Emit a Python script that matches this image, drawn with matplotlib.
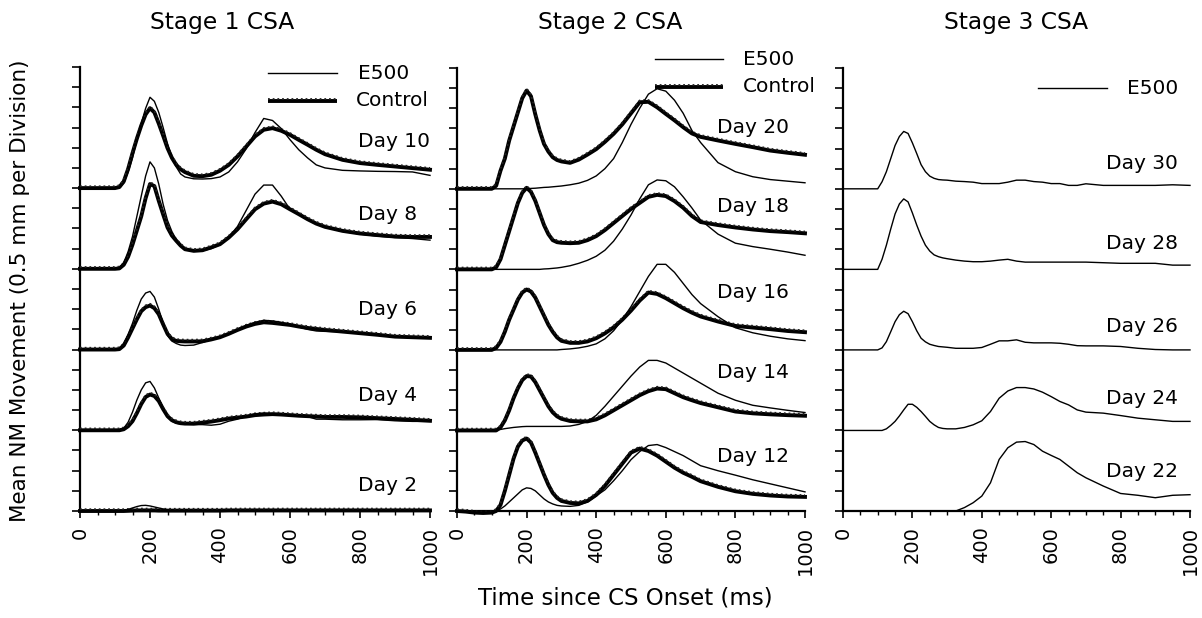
import numpy as np
import matplotlib
matplotlib.use("Agg")
import matplotlib.pyplot as plt
from matplotlib.transforms import offset_copy

# time since CS onset (ms), finer around the early peak
t = [0, 25, 50, 75, 100,
     112.5, 125, 137.5, 150, 162.5, 175, 187.5, 200, 212.5, 225, 237.5,
     250, 262.5, 275, 287.5, 300,
     325, 350, 375, 400, 425, 450, 475, 500, 525, 550, 575, 600, 625, 650,
     675, 700, 750, 800, 850, 900, 950, 1000]

# Stage 1 CSA (divisions above each day's baseline)
ctrl_d10 = [0, 0, 0, 0, 0, 0.05, 0.33, 0.95, 1.73, 2.45, 3.1, 3.65, 3.96, 3.75, 3.2, 2.6,
            1.98, 1.5, 1.15, 0.93, 0.79, 0.61, 0.59, 0.66, 0.86, 1.15, 1.57, 2.06, 2.56,
            2.89, 2.97, 2.84, 2.64, 2.39, 2.15, 1.9, 1.68, 1.4, 1.24, 1.15, 1.07, 0.99, 0.91]
e500_d10 = [0, 0, 0, 0, 0, 0.03, 0.25, 0.8, 1.5, 2.4, 3.2, 3.95, 4.5, 4.3, 3.75, 3.0,
            2.2, 1.55, 1.05, 0.7, 0.55, 0.46, 0.45, 0.47, 0.55, 0.8, 1.3, 1.95, 2.75,
            3.45, 3.35, 2.95, 2.4, 1.9, 1.5, 1.15, 1.0, 0.88, 0.85, 0.83, 0.82, 0.8, 0.63]
ctrl_d8 = [0, 0, 0, 0, 0, 0.02, 0.2, 0.6, 1.2, 1.9, 2.6, 3.5, 4.2, 4.1, 3.37, 2.7,
           2.05, 1.65, 1.39, 1.15, 0.97, 0.89, 0.92, 1.06, 1.22, 1.55, 1.96, 2.46, 2.95,
           3.23, 3.33, 3.2, 2.95, 2.71, 2.46, 2.24, 2.08, 1.88, 1.75, 1.67, 1.6, 1.58, 1.58]
e500_d8 = [0, 0, 0, 0, 0, 0.05, 0.3, 0.85, 1.6, 2.6, 3.6, 4.6, 5.3, 5.0, 4.2, 3.2,
           2.4, 1.85, 1.45, 1.15, 0.95, 0.9, 0.9, 1.0, 1.2, 1.55, 2.1, 2.9, 3.7,
           4.15, 4.15, 3.6, 2.95, 2.7, 2.45, 2.23, 2.06, 1.86, 1.72, 1.62, 1.55, 1.5, 1.42]
ctrl_d6 = [0, 0, 0, 0, 0, 0.02, 0.2, 0.6, 1.05, 1.5, 1.9, 2.1, 2.18, 2.05, 1.75, 1.25,
           0.78, 0.52, 0.43, 0.41, 0.4, 0.4, 0.41, 0.5, 0.61, 0.78, 0.97, 1.14, 1.27,
           1.35, 1.32, 1.27, 1.22, 1.14, 1.07, 1.02, 0.97, 0.89, 0.81, 0.73, 0.64, 0.61, 0.58]
e500_d6 = [0, 0, 0, 0, 0, 0.05, 0.3, 0.75, 1.3, 1.95, 2.5, 2.8, 2.88, 2.6, 2.0, 1.3,
           0.7, 0.42, 0.3, 0.22, 0.2, 0.22, 0.35, 0.5, 0.62, 0.8, 1.0, 1.2, 1.35,
           1.45, 1.42, 1.35, 1.25, 1.12, 1.0, 0.92, 0.9, 0.88, 0.82, 0.75, 0.63, 0.6, 0.57]
ctrl_d4 = [0, 0, 0, 0, 0, 0, 0.05, 0.2, 0.45, 0.85, 1.3, 1.65, 1.77, 1.7, 1.45, 1.05,
           0.7, 0.5, 0.4, 0.35, 0.33, 0.33, 0.38, 0.43, 0.5, 0.58, 0.63, 0.68, 0.75,
           0.78, 0.8, 0.78, 0.75, 0.72, 0.7, 0.68, 0.66, 0.66, 0.64, 0.6, 0.56, 0.52, 0.47]
e500_d4 = [0, 0, 0, 0, 0, 0.02, 0.1, 0.4, 0.9, 1.5, 2.0, 2.35, 2.42, 2.1, 1.6, 1.1,
           0.65, 0.45, 0.35, 0.31, 0.3, 0.28, 0.28, 0.25, 0.3, 0.45, 0.55, 0.7, 0.82,
           0.85, 0.82, 0.78, 0.75, 0.7, 0.68, 0.55, 0.55, 0.52, 0.52, 0.53, 0.47, 0.44, 0.44]
ctrl_d2 = [0, 0, 0, 0, 0, 0, 0, 0.01, 0.02, 0.03, 0.03, 0.03, 0.03, 0.03, 0.02, 0.02,
           0.02, 0.02, 0.02, 0.02, 0.02, 0.02, 0.02, 0.02, 0.02, 0.03, 0.03, 0.03, 0.03,
           0.03, 0.03, 0.03, 0.03, 0.03, 0.03, 0.03, 0.03, 0.03, 0.03, 0.03, 0.03, 0.03, 0.03]
e500_d2 = [0, 0, 0, 0, 0, 0, 0.02, 0.08, 0.15, 0.22, 0.27, 0.28, 0.25, 0.2, 0.15, 0.1,
           0.05, 0.03, 0.02, 0.02, 0.02, 0.02, 0.02, 0.02, 0.02, 0.02, 0.02, 0.02, 0.02,
           0.02, 0.02, 0.02, 0.02, 0.02, 0.02, 0.02, 0.02, 0.02, 0.02, 0.02, 0.02, 0.02, 0.02]

# Stage 2 CSA
ctrl_d20 = [0, 0, 0, 0, 0, 0.15, 0.9, 1.5, 2.4, 3.1, 3.8, 4.5, 4.88, 4.6, 3.7, 2.9,
            2.23, 1.85, 1.57, 1.43, 1.36, 1.29, 1.45, 1.7, 1.97, 2.33, 2.73, 3.2, 3.75,
            4.3, 4.32, 4.05, 3.72, 3.4, 3.06, 2.75, 2.58, 2.4, 2.23, 2.07, 1.9, 1.79, 1.69]
e500_d20 = [0, 0, 0, 0, 0, 0, 0, 0, 0, 0, 0, 0, 0, 0.02, 0.03, 0.05,
            0.07, 0.08, 0.1, 0.12, 0.14, 0.2, 0.28, 0.42, 0.64, 1.0, 1.5, 2.3, 3.2,
            4.0, 4.7, 4.97, 4.85, 4.4, 3.75, 2.9, 2.3, 1.3, 0.85, 0.6, 0.46, 0.38, 0.3]
ctrl_d18 = [0, 0, 0, 0, 0, 0.1, 0.5, 1.2, 1.9, 2.6, 3.3, 3.8, 4.05, 3.85, 3.4, 2.8,
            2.2, 1.75, 1.45, 1.35, 1.32, 1.3, 1.32, 1.45, 1.65, 1.95, 2.3, 2.65, 3.0,
            3.3, 3.6, 3.7, 3.64, 3.39, 3.06, 2.65, 2.35, 2.2, 2.08, 1.98, 1.9, 1.85, 1.79]
e500_d18 = [0, 0, 0, 0, 0, 0, 0, 0, 0, 0, 0, 0, 0, 0, 0, 0,
            0.02, 0.03, 0.05, 0.07, 0.1, 0.18, 0.3, 0.45, 0.65, 0.95, 1.4, 2.0, 2.7,
            3.5, 4.2, 4.44, 4.4, 4.1, 3.6, 3.05, 2.45, 1.75, 1.3, 1.13, 1.0, 0.86, 0.7]
ctrl_d16 = [0, 0, 0, 0, 0, 0.1, 0.4, 0.9, 1.5, 2.0, 2.5, 2.85, 3.0, 2.9, 2.6, 2.15,
            1.7, 1.25, 0.9, 0.62, 0.45, 0.35, 0.35, 0.42, 0.58, 0.82, 1.12, 1.5, 1.95,
            2.45, 2.85, 2.78, 2.57, 2.32, 2.07, 1.85, 1.66, 1.41, 1.19, 1.11, 1.03, 0.94, 0.88]
e500_d16 = [0, 0, 0, 0, 0, 0, 0, 0, 0, 0, 0, 0, 0, 0, 0, 0,
            0, 0, 0, 0, 0.02, 0.05, 0.1, 0.18, 0.3, 0.55, 0.95, 1.5, 2.15,
            2.9, 3.65, 4.25, 4.25, 3.85, 3.3, 2.75, 2.3, 1.65, 1.1, 0.85, 0.68, 0.55, 0.46]
ctrl_d14 = [0, 0, 0, 0, 0, 0, 0.15, 0.5, 1.0, 1.6, 2.1, 2.5, 2.7, 2.68, 2.4, 2.0,
            1.6, 1.2, 0.9, 0.7, 0.58, 0.47, 0.45, 0.45, 0.55, 0.75, 1.0, 1.25, 1.5,
            1.75, 1.95, 2.08, 2.05, 1.85, 1.65, 1.5, 1.36, 1.15, 0.94, 0.85, 0.8, 0.76, 0.73]
e500_d14 = [0, 0, 0, 0, 0, 0.02, 0.05, 0.09, 0.12, 0.15, 0.17, 0.19, 0.2, 0.2, 0.2, 0.2,
            0.2, 0.2, 0.2, 0.2, 0.2, 0.22, 0.3, 0.45, 0.75, 1.2, 1.7, 2.2, 2.7,
            3.15, 3.48, 3.48, 3.35, 3.1, 2.85, 2.6, 2.35, 1.85, 1.5, 1.25, 1.12, 1.0, 0.89]
ctrl_d12 = [0, -0.03, -0.08, -0.1, -0.08, 0, 0.3, 1.0, 1.8, 2.6, 3.2, 3.5, 3.6, 3.4, 2.9, 2.35,
            1.8, 1.3, 0.9, 0.65, 0.5, 0.4, 0.38, 0.5, 0.8, 1.25, 1.8, 2.35, 2.9,
            3.1, 2.98, 2.75, 2.45, 2.15, 1.9, 1.7, 1.48, 1.2, 0.98, 0.85, 0.77, 0.72, 0.7]
e500_d12 = [0, 0, 0, 0, 0, 0, 0.1, 0.25, 0.45, 0.65, 0.85, 1.05, 1.15, 1.12, 1.0, 0.8,
            0.6, 0.45, 0.35, 0.28, 0.25, 0.23, 0.28, 0.45, 0.75, 1.05, 1.5, 2.0, 2.55,
            2.95, 3.25, 3.3, 3.15, 2.95, 2.75, 2.5, 2.25, 2.0, 1.78, 1.55, 1.35, 1.15, 0.95]

# Stage 3 CSA (E500 only)
e500_d30 = [0, 0, 0, 0, 0, 0.35, 0.85, 1.5, 2.15, 2.6, 2.85, 2.75, 2.28, 1.75, 1.2, 0.85,
            0.63, 0.52, 0.46, 0.44, 0.43, 0.38, 0.36, 0.33, 0.26, 0.26, 0.26, 0.33, 0.43,
            0.43, 0.36, 0.33, 0.26, 0.26, 0.17, 0.17, 0.25, 0.17, 0.17, 0.17, 0.17, 0.2, 0.17]
e500_d28 = [0, 0, 0, 0, 0, 0.5, 1.2, 2.0, 2.75, 3.25, 3.5, 3.35, 2.8, 2.2, 1.65, 1.2,
            0.91, 0.72, 0.63, 0.57, 0.53, 0.46, 0.41, 0.38, 0.38, 0.41, 0.46, 0.5, 0.41,
            0.36, 0.36, 0.36, 0.36, 0.36, 0.36, 0.36, 0.36, 0.33, 0.3, 0.3, 0.3, 0.21, 0.21]
e500_d26 = [0, 0, 0, 0, 0, 0.1, 0.41, 0.9, 1.4, 1.75, 1.92, 1.8, 1.4, 0.95, 0.58, 0.4,
            0.28, 0.22, 0.17, 0.15, 0.13, 0.08, 0.08, 0.08, 0.12, 0.28, 0.45, 0.45, 0.5,
            0.38, 0.35, 0.35, 0.35, 0.33, 0.28, 0.21, 0.2, 0.2, 0.17, 0.08, 0.02, 0, 0]
e500_d24 = [0, 0, 0, 0, 0, 0, 0.08, 0.25, 0.45, 0.72, 1.02, 1.3, 1.3, 1.15, 0.94, 0.7,
            0.45, 0.28, 0.15, 0.1, 0.08, 0.08, 0.15, 0.28, 0.48, 0.94, 1.6, 1.96, 2.13,
            2.13, 2.06, 1.9, 1.68, 1.44, 1.27, 1.02, 0.91, 0.86, 0.74, 0.61, 0.53, 0.45, 0.45]
e500_d22 = [0, 0, 0, 0, 0, 0, 0, 0, 0, 0, 0, 0, 0, 0, 0, 0,
            0, 0, 0, 0, 0, 0, 0.17, 0.41, 0.74, 1.4, 2.56, 3.14, 3.42,
            3.45, 3.3, 2.97, 2.76, 2.56, 2.23, 1.9, 1.65, 1.24, 0.87, 0.78, 0.66, 0.78, 0.81]

stage1_days = ["Day 10", "Day 8", "Day 6", "Day 4", "Day 2"]
stage2_days = ["Day 20", "Day 18", "Day 16", "Day 14", "Day 12"]
stage3_days = ["Day 30", "Day 28", "Day 26", "Day 24", "Day 22"]
baselines = [16, 12, 8, 4, 0]

W, H = 1202, 618
fig = plt.figure(figsize=(W / 100, H / 100), dpi=100)
plt.rcParams['font.family'] = 'DejaVu Sans'


def px_axes(left, right, top, bottom):
    return fig.add_axes([left / W, 1 - bottom / H, (right - left) / W, (bottom - top) / H])


ax1 = px_axes(80, 430, 67, 511)
ax2 = px_axes(457, 805, 68, 511)
ax3 = px_axes(843, 1190, 68, 511)


def style_axes(ax):
    ax.set_xlim(0, 1000)
    ax.set_ylim(0, 22)
    for s in ['top', 'right']:
        ax.spines[s].set_visible(False)
    for s in ['left', 'bottom']:
        ax.spines[s].set_linewidth(1.6)
    ax.set_yticks(range(0, 23))
    ax.set_yticklabels([])
    ax.set_xticks([0, 200, 400, 600, 800, 1000])
    ax.set_xticks(np.arange(0, 1001, 50), minor=True)
    ax.set_xticklabels(['0', '200', '400', '600', '800', '1000'], rotation=90, fontsize=14)
    ax.tick_params(axis='y', direction='out', length=6, width=1.2)
    ax.tick_params(axis='x', which='major', direction='out', length=5, width=1.2, pad=6)
    ax.tick_params(axis='x', which='minor', direction='out', length=3, width=1.0)


def draw_ctrl(ax, y, base):
    yy = np.array(y) + base
    ax.plot(t, yy, color='black', lw=2.8, solid_joinstyle='round', clip_on=False, zorder=3)
    tr = offset_copy(ax.transData, fig=fig, x=0, y=1.3, units='points')
    ax.plot(t, yy, color='#222222', lw=1.3, ls=(0, (1, 1.6)), transform=tr, clip_on=False, zorder=3)


def draw_e500(ax, y, base):
    ax.plot(t, np.array(y) + base, color='black', lw=1.0, clip_on=False, zorder=4)


for ax in (ax1, ax2, ax3):
    style_axes(ax)

# stage 1
for c, e, b in zip([ctrl_d10, ctrl_d8, ctrl_d6, ctrl_d4, ctrl_d2],
                   [e500_d10, e500_d8, e500_d6, e500_d4, e500_d2], baselines):
    draw_ctrl(ax1, c, b)
    draw_e500(ax1, e, b)
# stage 2
for c, e, b in zip([ctrl_d20, ctrl_d18, ctrl_d16, ctrl_d14, ctrl_d12],
                   [e500_d20, e500_d18, e500_d16, e500_d14, e500_d12], baselines):
    draw_ctrl(ax2, c, b)
    draw_e500(ax2, e, b)
# stage 3
for e, b in zip([e500_d30, e500_d28, e500_d26, e500_d24, e500_d22], baselines):
    draw_e500(ax3, e, b)

# day labels
fs_day = 14.5
for lab, b, dy in zip(stage1_days, baselines, [2.3, 2.67, 1.96, 1.7, 1.24]):
    ax1.text(794, b + dy, lab, fontsize=fs_day, ha='left', va='center')
for lab, b, dy in zip(stage2_days, baselines, [3.04, 3.14, 2.86, 2.88, 2.7]):
    ax2.text(747, b + dy, lab, fontsize=fs_day, ha='left', va='center')
for lab, b, dy in zip(stage3_days, baselines, [1.27, 1.3, 1.14, 1.58, 1.95]):
    ax3.text(758, b + dy, lab, fontsize=fs_day, ha='left', va='center')


# legends drawn by hand
def legend_e500(ax, x0, x1, y, xt):
    ax.plot([x0, x1], [y, y], color='black', lw=1.0, clip_on=False)
    ax.text(xt, y, 'E500', fontsize=fs_day, ha='left', va='center')


def legend_ctrl(ax, x0, x1, y, xt):
    ax.plot([x0, x1], [y, y], color='black', lw=2.8, clip_on=False, solid_capstyle='butt')
    tr = offset_copy(ax.transData, fig=fig, x=0, y=1.3, units='points')
    ax.plot([x0, x1], [y, y], color='#222222', lw=1.3, ls=(0, (1, 1.6)), transform=tr, clip_on=False)
    ax.text(xt, y, 'Control', fontsize=fs_day, ha='left', va='center')


legend_e500(ax1, 537, 734, 21.69, 794)
legend_ctrl(ax1, 537, 734, 20.32, 789)
legend_e500(ax2, 569, 764, 22.44, 822)
legend_ctrl(ax2, 569, 764, 21.06, 822)
legend_e500(ax3, 562, 761, 21.0, 818)

# titles and axis labels
for txt, xc in zip(['Stage 1 CSA', 'Stage 2 CSA', 'Stage 3 CSA'], [222, 610, 1016]):
    fig.text(xc / W, 1 - 22 / H, txt, fontsize=16.8, ha='center', va='center')
fig.text(625 / W, 1 - 598 / H, 'Time since CS Onset (ms)', fontsize=16.5, ha='center', va='center')
fig.text(20 / W, 1 - 291 / H, 'Mean NM Movement (0.5 mm per Division)', fontsize=15.5,
         ha='center', va='center', rotation=90)

fig.savefig('out.png', dpi=100)
